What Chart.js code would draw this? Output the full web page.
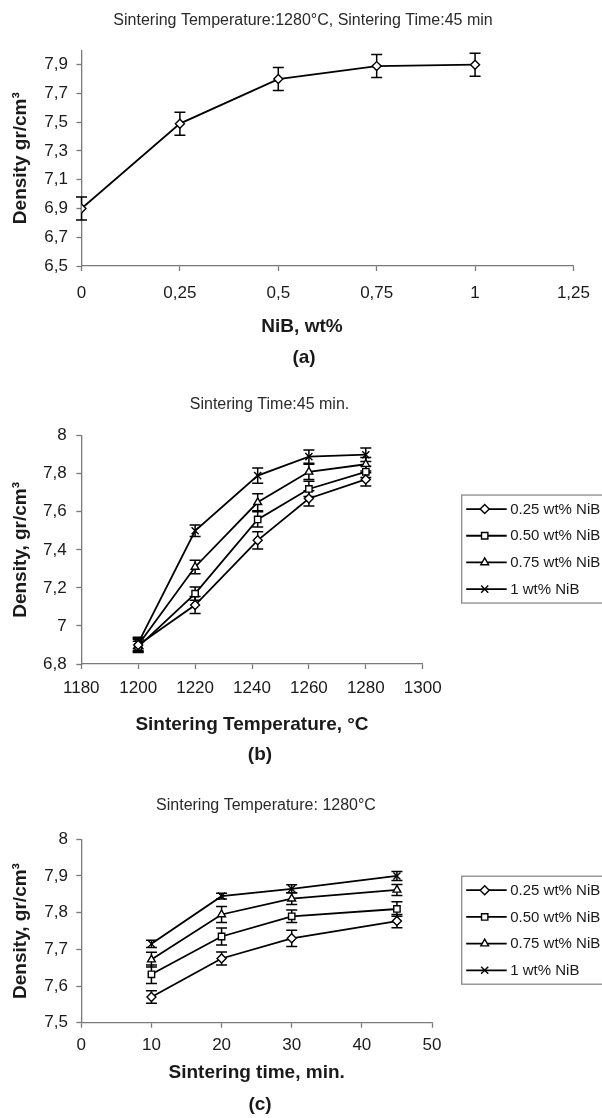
<!DOCTYPE html>
<html><head><meta charset="utf-8">
<script src="https://cdn.jsdelivr.net/npm/chart.js@4.4.1/dist/chart.umd.min.js"></script>
<style>
html,body{margin:0;padding:0;background:#fff;overflow:hidden;width:602px;height:1118px}
.panel{position:absolute;left:0;width:602px;overflow:hidden}
canvas{display:block}
</style></head><body>
<div class="panel" style="top:0;height:380px"><canvas id="ca" width="602" height="380"></canvas></div>
<div class="panel" style="top:380px;height:390px"><canvas id="cb" width="602" height="390"></canvas></div>
<div class="panel" style="top:770px;height:348px"><canvas id="cc" width="602" height="348"></canvas></div>
<script>
// ---------- Panel (a): density vs NiB content ----------
const nibContent = [0, 0.25, 0.5, 0.75, 1];
const densityA   = [6.9, 7.49, 7.8, 7.89, 7.9];
const errorA     = [0.08, 0.08, 0.08, 0.08, 0.08];
const xTicksA = [0, 0.25, 0.5, 0.75, 1, 1.25];
const yTicksA = [6.5, 6.7, 6.9, 7.1, 7.3, 7.5, 7.7, 7.9];

// ---------- Panel (b): density vs sintering temperature ----------
const temperatures = [1200, 1220, 1242, 1260, 1280];
const seriesLabels = ['0.25 wt% NiB', '0.50 wt% NiB', '0.75 wt% NiB', '1 wt% NiB'];
const tempNiB025 = [6.90, 7.11, 7.45, 7.67, 7.77];
const tempNiB050 = [6.89, 7.17, 7.56, 7.72, 7.81];
const tempNiB075 = [6.90, 7.31, 7.65, 7.81, 7.85];
const tempNiB100 = [6.91, 7.50, 7.79, 7.89, 7.90];
const tempErr025 = [0.035, 0.045, 0.045, 0.04, 0.035];
const tempErr050 = [0.03, 0.035, 0.04, 0.04, 0.03];
const tempErr075 = [0.03, 0.035, 0.045, 0.04, 0.035];
const tempErr100 = [0.03, 0.03, 0.04, 0.035, 0.035];
const xTicksB = [1180, 1200, 1220, 1240, 1260, 1280, 1300];
const yTicksB = [6.8, 7.0, 7.2, 7.4, 7.6, 7.8, 8.0];

// ---------- Panel (c): density vs sintering time ----------
const times = [10, 20, 30, 45];
const timeNiB025 = [7.570, 7.675, 7.730, 7.777];
const timeNiB050 = [7.632, 7.735, 7.790, 7.810];
const timeNiB075 = [7.672, 7.795, 7.838, 7.862];
const timeNiB100 = [7.715, 7.845, 7.865, 7.900];
const timeErr025 = [0.017, 0.018, 0.022, 0.018];
const timeErr050 = [0.025, 0.023, 0.017, 0.020];
const timeErr075 = [0.020, 0.022, 0.016, 0.015];
const timeErr100 = [0.010, 0.008, 0.011, 0.012];
const xTicksC = [0, 10, 20, 30, 40, 50];
const yTicksC = [7.5, 7.6, 7.7, 7.8, 7.9, 8.0];

const markerStyles = ['rectRot', 'rect', 'triangle', 'crossRot'];

const FONT = '"Liberation Sans", Arial, Helvetica, sans-serif';
const AXIS_GRAY = '#7a7a7a';
const TEXT = '#1a1a1a';

function fmtComma(dec) {
  return v => String(+Number(v).toFixed(dec)).replace('.', ',');
}

function pts(xs, ys) { return xs.map((x, i) => ({x: x, y: ys[i]})); }

function makeDataset(label, xs, ys, errs, style) {
  return {
    label: label,
    data: pts(xs, ys),
    errors: errs,
    borderColor: '#000',
    borderWidth: 1.8,
    pointStyle: style,
    pointRadius: style === 'crossRot' ? 5 : 4.5,
    pointBackgroundColor: '#fff',
    pointBorderColor: '#000',
    pointBorderWidth: 1.4,
    tension: 0,
    fill: false
  };
}

// error bars drawn from data through the y scale
const errorBars = {
  id: 'errorBars',
  beforeDatasetsDraw(chart) {
    const ctx = chart.ctx, ys = chart.scales.y;
    chart.data.datasets.forEach((ds, di) => {
      const meta = chart.getDatasetMeta(di);
      meta.data.forEach((pt, i) => {
        const v = ds.data[i].y, e = ds.errors[i];
        const x = pt.x, y1 = ys.getPixelForValue(v + e), y2 = ys.getPixelForValue(v - e);
        const cap = 5.5;
        ctx.save();
        ctx.strokeStyle = '#000';
        ctx.lineWidth = 1.5;
        ctx.beginPath();
        ctx.moveTo(x, y1); ctx.lineTo(x, y2);
        ctx.moveTo(x - cap, y1); ctx.lineTo(x + cap, y1);
        ctx.moveTo(x - cap, y2); ctx.lineTo(x + cap, y2);
        ctx.stroke();
        ctx.restore();
      });
    });
  }
};

function textPlugin(items) {
  return {
    id: 'panelText',
    afterDraw(chart) {
      const ctx = chart.ctx;
      items.forEach(it => {
        ctx.save();
        ctx.font = (it.weight || 'normal') + ' ' + it.size + 'px ' + FONT;
        ctx.fillStyle = it.color || TEXT;
        ctx.textAlign = 'center';
        ctx.textBaseline = 'middle';
        ctx.fillText(it.text, it.x, it.y);
        ctx.restore();
      });
    }
  };
}

function drawMarker(ctx, style, x, y, r) {
  ctx.beginPath();
  if (style === 'rectRot') {
    ctx.moveTo(x, y - r); ctx.lineTo(x + r, y); ctx.lineTo(x, y + r); ctx.lineTo(x - r, y); ctx.closePath();
  } else if (style === 'rect') {
    const s = r * Math.SQRT1_2; ctx.rect(x - s, y - s, 2 * s, 2 * s);
  } else if (style === 'triangle') {
    for (let k = 0; k < 3; k++) {
      const a = k * 2 * Math.PI / 3;
      const px = x + Math.sin(a) * r, py = y - Math.cos(a) * r;
      k ? ctx.lineTo(px, py) : ctx.moveTo(px, py);
    }
    ctx.closePath();
  } else {
    const d = r * Math.SQRT1_2;
    ctx.moveTo(x - d, y - d); ctx.lineTo(x + d, y + d);
    ctx.moveTo(x + d, y - d); ctx.lineTo(x - d, y + d);
  }
  ctx.fill(); ctx.stroke();
}

function legendPlugin(cfg) {
  return {
    id: 'boxLegend',
    afterDraw(chart) {
      const ctx = chart.ctx, ca = chart.chartArea;
      const rowH = 26.7;
      const h = 108;
      const cy = (ca.top + ca.bottom) / 2 - 0.8;
      const top = cy - h / 2;
      ctx.save();
      ctx.strokeStyle = '#8a8a8a';
      ctx.lineWidth = 1.3;
      ctx.strokeRect(cfg.left, top, 200, h);
      chart.data.datasets.forEach((ds, i) => {
        const y = top + 14 + i * rowH;
        ctx.strokeStyle = '#000';
        ctx.lineWidth = 1.8;
        ctx.beginPath();
        ctx.moveTo(cfg.left + 4.5, y); ctx.lineTo(cfg.left + 45, y);
        ctx.stroke();
        ctx.fillStyle = '#fff';
        ctx.strokeStyle = '#000';
        ctx.lineWidth = 1.4;
        drawMarker(ctx, ds.pointStyle, cfg.left + 23, y, ds.pointRadius);
        ctx.fillStyle = TEXT;
        ctx.font = '15px ' + FONT;
        ctx.textAlign = 'left';
        ctx.textBaseline = 'middle';
        ctx.fillText(ds.label, cfg.left + 48.5, y + 0.5);
      });
      ctx.restore();
    }
  };
}

function fixedTicks(values) {
  return axis => { axis.ticks = values.map(v => ({value: v})); };
}

function makeChart(id, cfg) {
  const W = 602;
  const A = cfg.area;
  const gridCfg = {display: true, drawOnChartArea: false, drawTicks: true, tickLength: 5, tickColor: AXIS_GRAY, tickWidth: 1.3};
  const borderCfg = {display: true, color: AXIS_GRAY, width: 1.3};
  const yScale = {
    type: 'linear', min: cfg.yMin, max: cfg.yMax,
    ticks: {callback: cfg.yFmt, font: {family: FONT, size: 17}, color: TEXT, padding: cfg.yPad, autoSkip: false},
    grid: gridCfg, border: borderCfg,
    title: {display: true, text: cfg.yTitle, font: {family: FONT, size: 19, weight: 'bold'}, color: TEXT, padding: {top: 9.6, bottom: 0}},
    afterBuildTicks: fixedTicks(cfg.yTicks),
    afterFit: s => { s.width = A.L; }
  };
  const xScale = {
    type: 'linear', min: cfg.xMin, max: cfg.xMax,
    ticks: {callback: cfg.xFmt, font: {family: FONT, size: 17}, color: TEXT, padding: cfg.xPad, maxRotation: 0, autoSkip: false},
    grid: gridCfg, border: borderCfg,
    title: cfg.xTitle ? {display: true, text: cfg.xTitle, font: {family: FONT, size: 19, weight: 'bold'}, color: TEXT, padding: {top: 0, bottom: cfg.xTitlePadB}} : {display: false},
    afterBuildTicks: fixedTicks(cfg.xTicks),
    afterFit: s => { s.height = cfg.H - A.B; }
  };
  const plugins = [errorBars, textPlugin(cfg.texts)];
  if (cfg.legendLeft) plugins.push(legendPlugin({left: cfg.legendLeft}));
  return new Chart(document.getElementById(id), {
    type: 'line',
    data: {datasets: cfg.datasets},
    options: {
      responsive: false,
      animation: false,
      events: [],
      layout: {padding: {left: 0, top: A.T, right: W - A.R, bottom: 0}},
      plugins: {legend: {display: false}, tooltip: {enabled: false}, title: {display: false}},
      scales: {x: xScale, y: yScale}
    },
    plugins: plugins
  });
}

// Panel (a)
makeChart('ca', {
  H: 380,
  area: {L: 81.5, T: 50.3, R: 581, B: 266},
  yMin: 6.5, yMax: 8.0, yTicks: yTicksA, yFmt: fmtComma(1), yPad: 8.5,
  yTitle: 'Density gr/cm³',
  xMin: 0, xMax: 1.25, xTicks: xTicksA, xFmt: fmtComma(2), xPad: 12,
  datasets: [makeDataset('NiB', nibContent, densityA, errorA, 'rectRot')],
  texts: [
    {text: 'Sintering Temperature:1280°C, Sintering Time:45 min', x: 303, y: 21, size: 16, color: '#2a2a2a'},
    {text: 'NiB, wt%', x: 302, y: 327, size: 19, weight: 'bold'},
    {text: '(a)', x: 304, y: 358, size: 19, weight: 'bold'}
  ]
});

// Panel (b)
makeChart('cb', {
  H: 390,
  area: {L: 81.3, T: 55.7, R: 422.7, B: 284},
  yMin: 6.8, yMax: 8.0, yTicks: yTicksB, yFmt: fmtComma(1), yPad: 9.6,
  yTitle: 'Density, gr/cm³',
  xMin: 1180, xMax: 1300, xTicks: xTicksB, xFmt: v => String(v), xPad: 9,
  xTitle: 'Sintering Temperature, °C', xTitlePadB: 33.6,
  legendLeft: 461.7,
  datasets: [
    makeDataset(seriesLabels[0], temperatures, tempNiB025, tempErr025, markerStyles[0]),
    makeDataset(seriesLabels[1], temperatures, tempNiB050, tempErr050, markerStyles[1]),
    makeDataset(seriesLabels[2], temperatures, tempNiB075, tempErr075, markerStyles[2]),
    makeDataset(seriesLabels[3], temperatures, tempNiB100, tempErr100, markerStyles[3])
  ],
  texts: [
    {text: 'Sintering Time:45 min.', x: 269.5, y: 25, size: 16, color: '#2a2a2a'},
    {text: '(b)', x: 260, y: 375, size: 19, weight: 'bold'}
  ]
});

// Panel (c)
makeChart('cc', {
  H: 348,
  area: {L: 81.3, T: 69.3, R: 432, B: 252.7},
  yMin: 7.5, yMax: 8.0, yTicks: yTicksC, yFmt: fmtComma(1), yPad: 8.3,
  yTitle: 'Density, gr/cm³',
  xMin: 0, xMax: 50, xTicks: xTicksC, xFmt: v => String(v), xPad: 7,
  xTitle: 'Sintering time, min.', xTitlePadB: 33.6,
  legendLeft: 461.7,
  datasets: [
    makeDataset(seriesLabels[0], times, timeNiB025, timeErr025, markerStyles[0]),
    makeDataset(seriesLabels[1], times, timeNiB050, timeErr050, markerStyles[1]),
    makeDataset(seriesLabels[2], times, timeNiB075, timeErr075, markerStyles[2]),
    makeDataset(seriesLabels[3], times, timeNiB100, timeErr100, markerStyles[3])
  ],
  texts: [
    {text: 'Sintering Temperature: 1280°C', x: 266, y: 35.7, size: 16, color: '#2a2a2a'},
    {text: '(c)', x: 260, y: 335, size: 19, weight: 'bold'}
  ]
});
</script>
</body></html>
